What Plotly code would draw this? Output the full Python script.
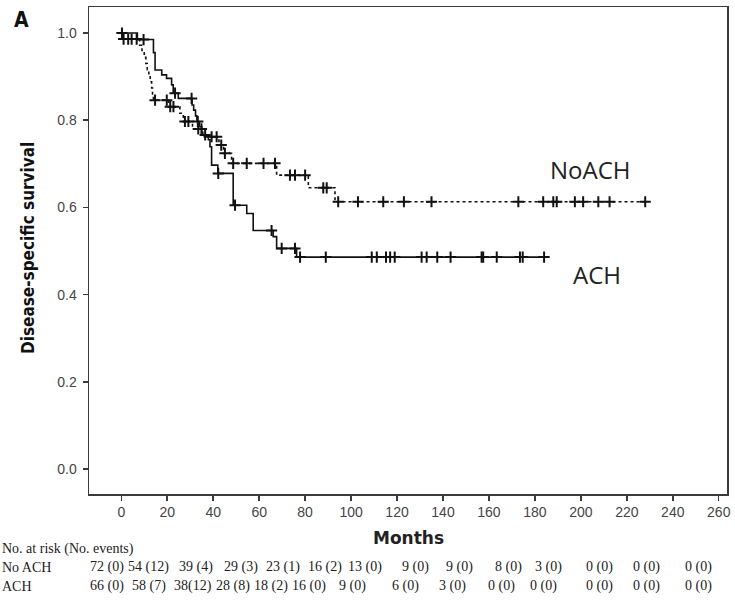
import plotly.graph_objects as go

# ---------------- data ----------------
# Kaplan-Meier steps: event times (months) and survival after each event
ach_event_months = [7, 14, 14.7, 17.6, 19.7, 21.9, 22.6, 24.8, 30.8, 31.5, 32.3, 32.9, 34.0, 35.0,
                    37.9, 38.6, 39.3, 42.0, 48.7, 54.6, 57.4, 66.1, 67.6, 76.3]
ach_survival = [0.985, 0.955, 0.915, 0.904, 0.896, 0.881, 0.862, 0.850, 0.835, 0.823, 0.810, 0.797, 0.785, 0.766,
                0.755, 0.739, 0.697, 0.678, 0.605, 0.586, 0.547, 0.533, 0.506, 0.486]
ach_last_month = 184
ach_censored = [0.3, 9.7, 23.4, 30.6, 33.3, 36.5, 42.2, 49.5, 65.4, 69.8, 75.6, 77.8, 89.0, 109.0, 111.2,
                115.2, 117.0, 119.0, 130.7, 132.9, 137.5, 143.3, 156.8, 157.5, 163.4, 173.5, 174.7, 184.0]

noach_event_months = [0.5, 8, 9, 10, 10.7, 11.3, 12, 12.6, 13.2, 13.6, 14, 20.5, 25.5, 27, 31, 35.5,
                      42.5, 44.5, 48, 67.6, 81.4, 93]
noach_survival = [0.986, 0.972, 0.958, 0.944, 0.930, 0.916, 0.902, 0.888, 0.874, 0.860, 0.846, 0.831, 0.816,
                  0.797, 0.780, 0.762, 0.743, 0.724, 0.701, 0.674, 0.645, 0.613]
noach_last_month = 228
noach_censored = [1, 3, 4.5, 6.7, 14.7, 19.8, 21.3, 22.7, 27.7, 29.2, 33.5, 34.9, 39.3, 41.5, 43.5, 45.1,
                  48.7, 54.6, 61.9, 66.9, 73.4, 75.6, 80, 87.9, 89.4, 94.4, 103, 114, 123, 135, 172.8,
                  183.6, 188, 189.5, 197.4, 201, 207.6, 212.5, 228]

x_ticks = [0, 20, 40, 60, 80, 100, 120, 140, 160, 180, 200, 220, 240, 260]
y_ticks = [0.0, 0.2, 0.4, 0.6, 0.8, 1.0]

risk_at_noach = [72, 54, 39, 29, 23, 16, 13, 9, 9, 8, 3, 0, 0, 0]
risk_ev_noach = [0, 12, 4, 3, 1, 2, 0, 0, 0, 0, 0, 0, 0, 0]
risk_at_ach = [66, 58, 38, 28, 18, 16, 9, 6, 3, 0, 0, 0, 0, 0]
risk_ev_ach = [0, 7, 12, 8, 2, 0, 0, 0, 0, 0, 0, 0, 0, 0]

# ---------------- layout constants ----------------
W, H = 735, 604
ML, MR, MT, MB = 89, 8, 7, 110
PW, PH = W - ML - MR, H - MT - MB
col_px_noach = [88, 126, 177, 222, 264, 306, 346, 400, 444, 493, 533, 584, 631, 683]
col_px_ach = [88, 130, 172, 214, 252, 290, 337, 390, 437, 486, 528, 584, 631, 683]


def px_x(px):
    return (px - ML) / PW


def px_y(py):
    return (H - MB - py) / PH


def step_path(times, surv, last):
    xs, ys = [0], [1.0]
    for t, s in zip(times, surv):
        xs.append(t)
        ys.append(s)
    xs.append(last)
    ys.append(surv[-1])
    return xs, ys


def value_at(times, surv, t):
    v = 1.0
    for tt, s in zip(times, surv):
        if t >= tt:
            v = s
    return v


fig = go.Figure()

for times, surv, last, cens, dash in [
    (noach_event_months, noach_survival, noach_last_month, noach_censored, "3px,3px"),
    (ach_event_months, ach_survival, ach_last_month, ach_censored, "solid"),
]:
    xs, ys = step_path(times, surv, last)
    fig.add_trace(go.Scatter(x=xs, y=ys, mode="lines", line=dict(color="#111", width=1.6, dash=dash, shape="hv"),
                             showlegend=False, hoverinfo="skip"))
    fig.add_trace(go.Scatter(x=cens, y=[value_at(times, surv, c) for c in cens], mode="markers",
                             marker=dict(symbol="cross-thin", size=8, line=dict(color="#111", width=2)),
                             showlegend=False, hoverinfo="skip"))

axis_common = dict(showline=True, mirror=True, linecolor="#3a3a3a", linewidth=1.5, ticks="outside",
                   ticklen=5, tickwidth=1.5, tickcolor="#3a3a3a", showgrid=False, zeroline=False,
                   tickfont=dict(family="Arial, Liberation Sans", size=14, color="#444"))

fig.update_xaxes(range=[-14.05, 263.6], tickvals=x_ticks, ticktext=[str(v) for v in x_ticks],
                 ticklabelstandoff=0, **axis_common)
fig.update_yaxes(range=[-0.0573, 1.0596], tickvals=y_ticks, ticktext=[f"{v:.1f}" for v in y_ticks],
                 ticklabelstandoff=3, **axis_common)

narrow = "Liberation Sans Narrow, DejaVu Sans Condensed, Arial Narrow"
ann = []


def paper_text(text, px, py, font, xanchor="center", textangle=0):
    ann.append(dict(text=text, x=px_x(px), y=px_y(py), xref="paper", yref="paper", showarrow=False,
                    xanchor=xanchor, yanchor="middle", textangle=textangle, font=font))


paper_text("<b>A</b>", 21, 20, dict(family=narrow, size=21, color="#111"))
paper_text("<b>Disease-specific survival</b>", 28, 248, dict(family=narrow, size=17, color="#111"), textangle=-90)
paper_text("<b>Months</b>", 408, 538, dict(family="DejaVu Sans", size=17, color="#222"))

ann.append(dict(text="NoACH", x=204, y=0.686, xref="x", yref="y", showarrow=False,
                xanchor="center", yanchor="middle", font=dict(family="Open Sans", size=24, color="#222")))
ann.append(dict(text="ACH", x=207, y=0.447, xref="x", yref="y", showarrow=False,
                xanchor="center", yanchor="middle", font=dict(family="Open Sans", size=24, color="#222")))

tfont = dict(family="Liberation Serif, Times New Roman", size=14, color="#222")
paper_text("No. at risk (No. events)", 0, 549, tfont, xanchor="left")
paper_text("No ACH", 0, 567, tfont, xanchor="left")
paper_text("ACH", 0, 586, tfont, xanchor="left")


def cell(n, e):
    return f"{n}({e})" if e >= 10 and n < 50 else f"{n} ({e})"


for n, e, px in zip(risk_at_noach, risk_ev_noach, col_px_noach):
    paper_text(cell(n, e), px, 567, tfont, xanchor="left")
for n, e, px in zip(risk_at_ach, risk_ev_ach, col_px_ach):
    paper_text(cell(n, e), px, 586, tfont, xanchor="left")

fig.update_layout(width=W, height=H, margin=dict(l=ML, r=MR, t=MT, b=MB, autoexpand=False),
                  plot_bgcolor="white", paper_bgcolor="white", annotations=ann)

fig.write_html("out.html", config={"displayModeBar": False, "staticPlot": True},
               post_script="document.body.style.margin='0';document.body.style.overflow='hidden';")
